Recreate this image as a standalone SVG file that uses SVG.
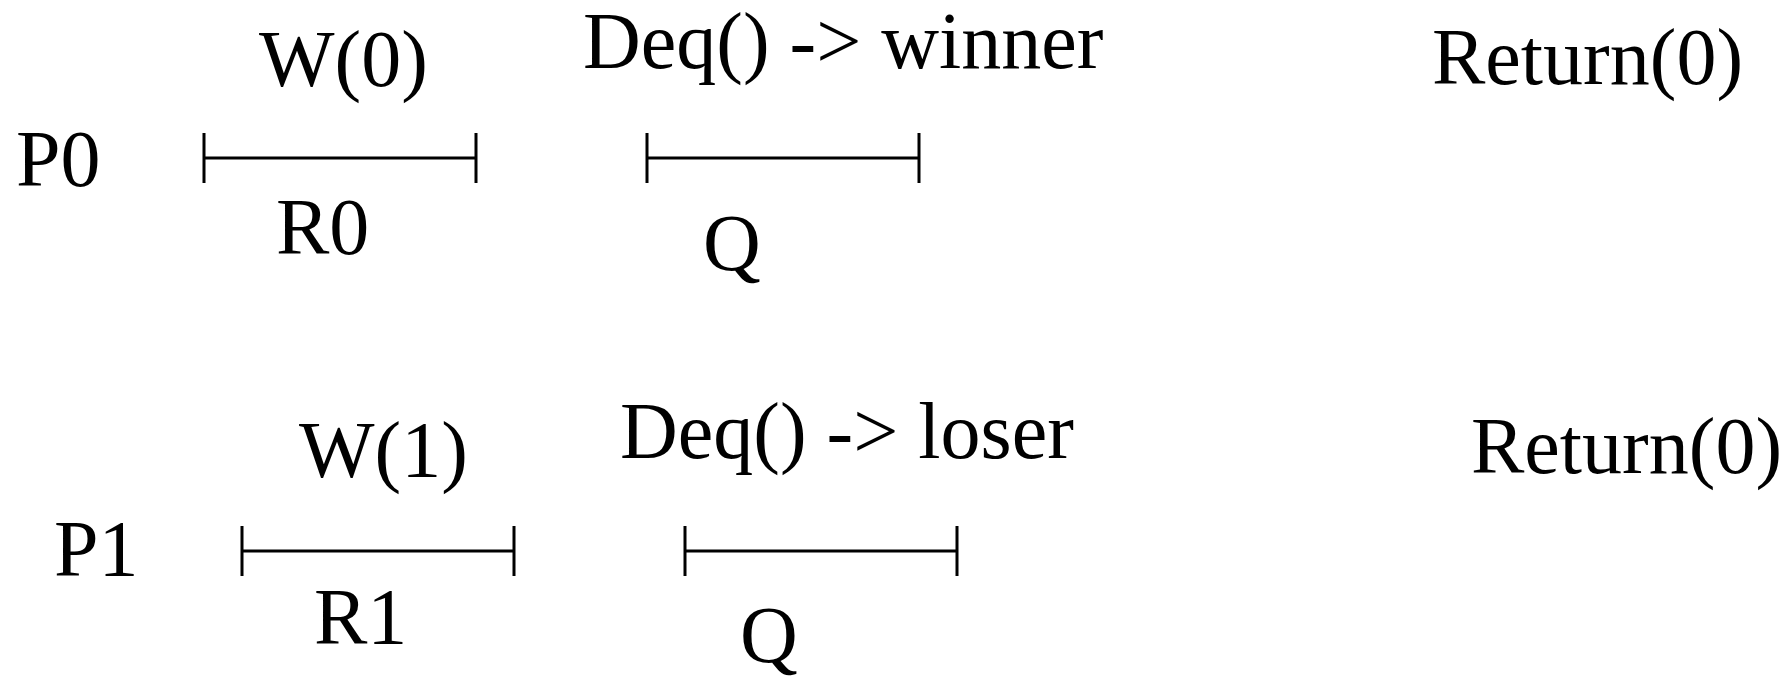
<svg xmlns="http://www.w3.org/2000/svg" width="1786" height="680" viewBox="0 0 1786 680">
<style>
text { font-family: "Liberation Serif", "Times New Roman", serif; font-size: 80px; fill: #000; }
.iv { stroke: #000; stroke-width: 3; fill: none; }
</style>
<defs>
<g id="interval">
<path class="iv" d="M0,-25 V25 M0,0 H272 M272,-25 V25"/>
</g>
</defs>
<rect width="1786" height="680" fill="#fff"/>
<g id="p0">
<text id="p0-label" x="16" y="186">P0</text>
<g id="p0-write">
<use href="#interval" x="204" y="158"/>
<text x="259" y="86">W(0)</text>
<text x="276" y="254">R0</text>
</g>
<g id="p0-deq">
<use href="#interval" x="647" y="158"/>
<text x="583" y="68">Deq() -&gt; winner</text>
<text x="703" y="270">Q</text>
</g>
<text id="p0-return" x="1432" y="84">Return(0)</text>
</g>
<g id="p1">
<text id="p1-label" x="54" y="576">P1</text>
<g id="p1-write">
<use href="#interval" x="242" y="551"/>
<text x="299" y="477">W(1)</text>
<text x="314" y="644">R1</text>
</g>
<g id="p1-deq">
<use href="#interval" x="685" y="551"/>
<text x="620" y="458">Deq() -&gt; loser</text>
<text x="740" y="662">Q</text>
</g>
<text id="p1-return" x="1471" y="473">Return(0)</text>
</g>
<g id="connectors"></g>
</svg>
